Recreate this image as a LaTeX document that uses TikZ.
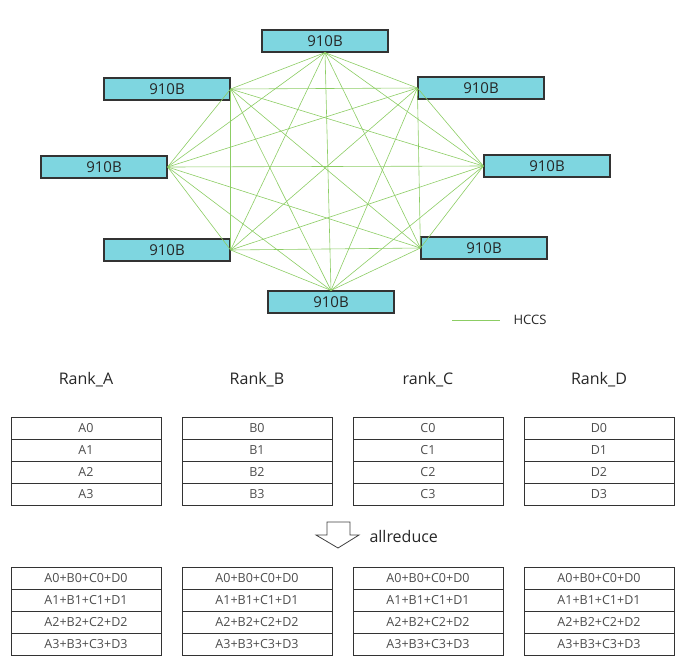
\documentclass[tikz,border=0pt]{standalone}
\usepackage{fontspec}
\setmainfont{Open Sans}
\begin{document}
\begin{tikzpicture}[x=1pt,y=-1pt,
  chip/.style={draw=black!80,line width=1.2pt,fill={rgb,255:red,126;green,214;blue,224},minimum width=126pt,minimum height=22pt,inner sep=0pt,font=\fontsize{15}{15}\selectfont,text=black!85},
  cell/.style={draw=black!80,line width=0.8pt,minimum width=150pt,minimum height=22pt,inner sep=0pt,font=\fontsize{12.5}{12.5}\selectfont,text=black!70},
  link/.style={draw={rgb,255:red,140;green,205;blue,100},line width=0.6pt},
  title/.style={font=\fontsize{16}{16}\selectfont,text=black!85}]
\useasboundingbox (0,0) rectangle (688,665);
\node[chip] (n1) at (325,41) {910B};
\node[chip] (n2) at (481,88) {910B};
\node[chip] (n3) at (547,166) {910B};
\node[chip] (n4) at (484,248) {910B};
\node[chip] (n5) at (331,302) {910B};
\node[chip] (n6) at (167,250) {910B};
\node[chip] (n7) at (104,167) {910B};
\node[chip] (n8) at (167,89) {910B};
\coordinate (p1) at (n1.south);
\coordinate (p2) at (n2.west);
\coordinate (p3) at (n3.west);
\coordinate (p4) at (n4.west);
\coordinate (p5) at (n5.north);
\coordinate (p6) at (n6.east);
\coordinate (p7) at (n7.east);
\coordinate (p8) at (n8.east);
\foreach \i in {1,...,8}{\foreach \j in {1,...,8}{\ifnum\i<\j \draw[link] (p\i) -- (p\j);\fi}}
\coordinate (h1) at (452,320); \coordinate (h2) at (500,320);
\draw[link] (h1) -- (h2);
\node[anchor=west,font=\fontsize{13}{13}\selectfont,text=black!85] (hccs) at (510,320) {HCCS};
\foreach \c/\t/\x/\L in {0/Rank\_A/86/A,1/Rank\_B/257/B,2/rank\_C/428/C,3/Rank\_D/599/D}{
  \node[title] (t\c) at (\x,380) {\t};
  \foreach \r in {0,...,3}{
    \node[cell] (a\c\r) at (\x,{428+22*\r}) {\L\r};
    \node[cell] (b\c\r) at (\x,{578+22*\r}) {A\r+B\r+C\r+D\r};
  }
}
\draw[draw=black!75,line width=0.8pt,fill=white] (327,522) -- (350,522) -- (350,535) -- (359,535) -- (338,548) -- (316,535) -- (327,535) -- cycle;
\node[anchor=west,font=\fontsize{16}{16}\selectfont,text=black!85] (ar) at (366,536) {allreduce};
\end{tikzpicture}
\end{document}
